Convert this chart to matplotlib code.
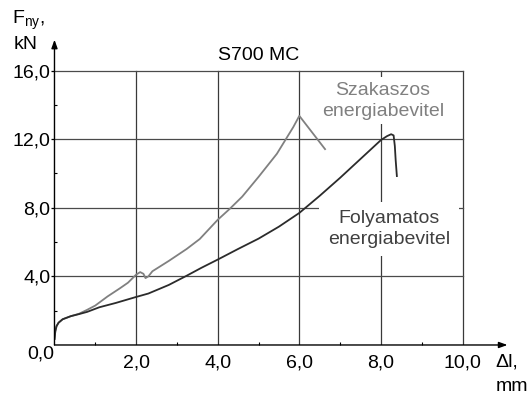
import matplotlib
matplotlib.use("Agg")
import matplotlib.pyplot as plt  # noqa: E402

plt.rcParams["font.family"] = ["Liberation Sans", "DejaVu Sans"]
plt.rcParams["mathtext.fontset"] = "custom"
plt.rcParams["mathtext.rm"] = "Liberation Sans"

# Szakaszos energiabevitel (grey curve)
szak_dl = [0, 0.02, 0.05, 0.1, 0.2, 0.4, 0.6, 0.8, 1.0, 1.3, 1.6, 1.8, 2.0,
           2.1, 2.18, 2.23, 2.3, 2.4, 2.8, 3.24, 3.56, 4.0, 4.3, 4.6, 5.0,
           5.45, 5.85, 6.0, 6.63]
szak_f = [0.35, 0.8, 1.1, 1.3, 1.5, 1.68, 1.82, 2.05, 2.3, 2.83, 3.3, 3.63,
          4.1, 4.25, 4.15, 3.9, 4.0, 4.3, 4.9, 5.6, 6.18, 7.3, 7.95, 8.65,
          9.8, 11.15, 12.7, 13.36, 11.42]

# Folyamatos energiabevitel (dark curve)
foly_dl = [0, 0.02, 0.05, 0.1, 0.2, 0.4, 0.6, 0.8, 1.1, 1.5, 2.0, 2.3, 2.8,
           3.24, 3.6, 4.0, 4.5, 5.0, 5.5, 6.0, 6.5, 7.0, 7.5, 8.0, 8.15,
           8.25, 8.31, 8.34, 8.36, 8.39]
foly_f = [0.35, 0.8, 1.1, 1.3, 1.5, 1.68, 1.8, 1.93, 2.2, 2.45, 2.8, 3.0,
          3.5, 4.04, 4.5, 4.98, 5.6, 6.2, 6.9, 7.7, 8.7, 9.75, 10.85, 11.95,
          12.18, 12.29, 12.22, 11.6, 10.8, 9.85]

x_major = [2, 4, 6, 8, 10]
x_labels = ["2,0", "4,0", "6,0", "8,0", "10,0"]
x_minor = [1, 3, 5, 7, 9]
y_major = [4, 8, 12, 16]
y_labels = ["4,0", "8,0", "12,0", "16,0"]
y_minor = [2, 6, 10, 14]
x_max, y_max = 10, 16

fig = plt.figure(figsize=(5.29, 3.94), dpi=100)
ax = fig.add_axes([0.103, 0.1244, 0.864, 0.7748])
ax.set_xlim(0, 11.2)
ax.set_ylim(0, 17.8)
for s in ax.spines.values():
    s.set_visible(False)

# grid + frame (only up to 10 / 16)
for xv in x_major:
    ax.plot([xv, xv], [0, y_max], color="#3a3a3a", lw=0.9, zorder=1)
for yv in y_major:
    ax.plot([0, x_max], [yv, yv], color="#4a4a4a", lw=0.9, zorder=1)

# axes with arrows
arrow = dict(arrowstyle="-|>,head_length=0.5,head_width=0.18",
             color="black", lw=1.0, shrinkA=0, shrinkB=0)
ax.annotate("", xy=(11.1, 0), xytext=(0, 0), arrowprops=arrow,
            annotation_clip=False, zorder=4)
ax.annotate("", xy=(0, 17.8), xytext=(0, 0), arrowprops=arrow,
            annotation_clip=False, zorder=4)

ax.set_xticks(x_major, x_labels)
ax.set_xticks(x_minor, minor=True)
ax.set_yticks(y_major, y_labels)
ax.set_yticks(y_minor, minor=True)
ax.tick_params(axis="x", which="major", length=0, pad=7, labelsize=14)
ax.tick_params(axis="x", which="minor", direction="in", length=2.3,
               width=0.8)
ax.tick_params(axis="y", which="major", direction="out", length=2,
               width=0.9, pad=1, labelsize=14)
ax.tick_params(axis="y", which="minor", direction="in", length=2.3,
               width=0.8)

ax.plot(szak_dl, szak_f, color="#808080", lw=1.3, zorder=3)
ax.plot(foly_dl, foly_f, color="#2b2b2b", lw=1.3, zorder=3)

box = dict(facecolor="white", edgecolor="none", boxstyle="square,pad=0.25")
ax.text(8.05, 14.23, "Szakaszos\nenergiabevitel", color="#808080",
        fontsize=14, ha="center", va="center", linespacing=1.25,
        bbox=box, zorder=2)
ax.text(8.2, 6.76, "Folyamatos\nenergiabevitel", color="#404040",
        fontsize=14, ha="center", va="center", linespacing=1.25,
        bbox=dict(box, boxstyle="square,pad=0.45"), zorder=2)

ax.text(5, 16.9, "S700 MC", fontsize=14, ha="center", va="center")
ax.text(-0.34, -0.55, "0,0", fontsize=14, ha="center", va="center",
        clip_on=False)
ax.text(10.8, -0.99, "\u0394l,", fontsize=14, ha="left", va="center",
        clip_on=False)
ax.text(10.82, -2.43, "mm", fontsize=14, ha="left", va="center",
        clip_on=False)
fig.text(0.023, 0.949, r"F$_\mathregular{ny}$,", fontsize=14,
         ha="left", va="center")
fig.text(0.049, 0.888, "kN", fontsize=14, ha="center", va="center")

fig.savefig("out.png", dpi=100)
plt.close(fig)
